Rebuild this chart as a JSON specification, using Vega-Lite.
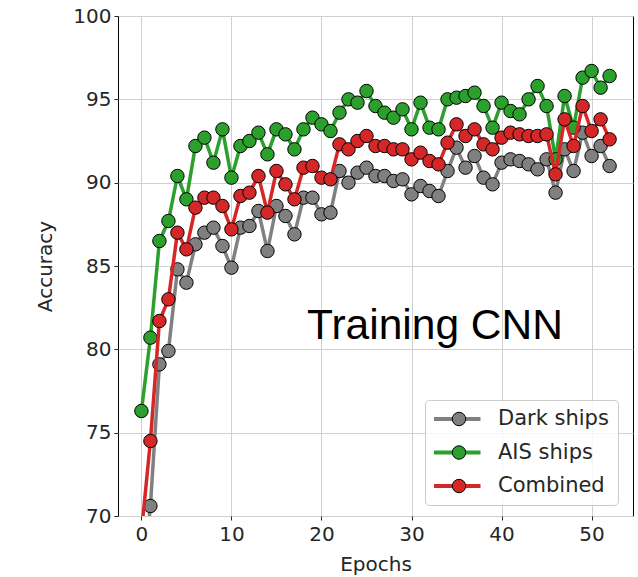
{
  "$schema": "https://vega.github.io/schema/vega-lite/v6.json",
  "width": 515,
  "height": 500,
  "autosize": {"type": "none"},
  "padding": {"left": 118, "top": 16, "right": 5, "bottom": 61},
  "background": "white",
  "config": {
    "view": {"stroke": "#000000", "strokeWidth": 1},
    "axis": {
      "labelFont": "DejaVu Sans", "labelFontSize": 20, "labelColor": "#262626",
      "titleFont": "DejaVu Sans", "titleFontSize": 20, "titleFontWeight": "normal", "titleColor": "#262626",
      "tickColor": "#262626", "tickSize": 4, "tickWidth": 1, "domain": false,
      "gridColor": "#d0d0d0", "gridWidth": 1
    }
  },
  "datasets": {
    "acc": [
      {"epoch":0,"series":"Dark ships","accuracy":65},{"epoch":1,"series":"Dark ships","accuracy":70.6},{"epoch":2,"series":"Dark ships","accuracy":79.1},{"epoch":3,"series":"Dark ships","accuracy":79.9},{"epoch":4,"series":"Dark ships","accuracy":84.8},{"epoch":5,"series":"Dark ships","accuracy":84.0},{"epoch":6,"series":"Dark ships","accuracy":86.3},{"epoch":7,"series":"Dark ships","accuracy":87.0},{"epoch":8,"series":"Dark ships","accuracy":87.3},{"epoch":9,"series":"Dark ships","accuracy":86.2},{"epoch":10,"series":"Dark ships","accuracy":84.9},{"epoch":11,"series":"Dark ships","accuracy":87.3},{"epoch":12,"series":"Dark ships","accuracy":87.4},{"epoch":13,"series":"Dark ships","accuracy":88.3},{"epoch":14,"series":"Dark ships","accuracy":85.9},{"epoch":15,"series":"Dark ships","accuracy":88.6},{"epoch":16,"series":"Dark ships","accuracy":88.0},{"epoch":17,"series":"Dark ships","accuracy":86.9},{"epoch":18,"series":"Dark ships","accuracy":89.1},{"epoch":19,"series":"Dark ships","accuracy":89.1},{"epoch":20,"series":"Dark ships","accuracy":88.1},{"epoch":21,"series":"Dark ships","accuracy":88.2},{"epoch":22,"series":"Dark ships","accuracy":90.7},{"epoch":23,"series":"Dark ships","accuracy":90.0},{"epoch":24,"series":"Dark ships","accuracy":90.6},{"epoch":25,"series":"Dark ships","accuracy":90.9},{"epoch":26,"series":"Dark ships","accuracy":90.4},{"epoch":27,"series":"Dark ships","accuracy":90.4},{"epoch":28,"series":"Dark ships","accuracy":90.1},{"epoch":29,"series":"Dark ships","accuracy":90.2},{"epoch":30,"series":"Dark ships","accuracy":89.3},{"epoch":31,"series":"Dark ships","accuracy":89.8},{"epoch":32,"series":"Dark ships","accuracy":89.5},{"epoch":33,"series":"Dark ships","accuracy":89.2},{"epoch":34,"series":"Dark ships","accuracy":90.7},{"epoch":35,"series":"Dark ships","accuracy":92.1},{"epoch":36,"series":"Dark ships","accuracy":90.9},{"epoch":37,"series":"Dark ships","accuracy":91.6},{"epoch":38,"series":"Dark ships","accuracy":90.3},{"epoch":39,"series":"Dark ships","accuracy":89.9},{"epoch":40,"series":"Dark ships","accuracy":91.2},{"epoch":41,"series":"Dark ships","accuracy":91.4},{"epoch":42,"series":"Dark ships","accuracy":91.3},{"epoch":43,"series":"Dark ships","accuracy":91.1},{"epoch":44,"series":"Dark ships","accuracy":90.8},{"epoch":45,"series":"Dark ships","accuracy":91.4},{"epoch":46,"series":"Dark ships","accuracy":89.4},{"epoch":47,"series":"Dark ships","accuracy":92.0},{"epoch":48,"series":"Dark ships","accuracy":90.7},{"epoch":49,"series":"Dark ships","accuracy":93.0},{"epoch":50,"series":"Dark ships","accuracy":91.6},{"epoch":51,"series":"Dark ships","accuracy":92.2},{"epoch":52,"series":"Dark ships","accuracy":91.0},
      {"epoch":0,"series":"AIS ships","accuracy":76.3},{"epoch":1,"series":"AIS ships","accuracy":80.7},{"epoch":2,"series":"AIS ships","accuracy":86.5},{"epoch":3,"series":"AIS ships","accuracy":87.7},{"epoch":4,"series":"AIS ships","accuracy":90.4},{"epoch":5,"series":"AIS ships","accuracy":89.0},{"epoch":6,"series":"AIS ships","accuracy":92.2},{"epoch":7,"series":"AIS ships","accuracy":92.7},{"epoch":8,"series":"AIS ships","accuracy":91.2},{"epoch":9,"series":"AIS ships","accuracy":93.2},{"epoch":10,"series":"AIS ships","accuracy":90.3},{"epoch":11,"series":"AIS ships","accuracy":92.2},{"epoch":12,"series":"AIS ships","accuracy":92.5},{"epoch":13,"series":"AIS ships","accuracy":93.0},{"epoch":14,"series":"AIS ships","accuracy":91.7},{"epoch":15,"series":"AIS ships","accuracy":93.2},{"epoch":16,"series":"AIS ships","accuracy":92.9},{"epoch":17,"series":"AIS ships","accuracy":92.0},{"epoch":18,"series":"AIS ships","accuracy":93.2},{"epoch":19,"series":"AIS ships","accuracy":93.9},{"epoch":20,"series":"AIS ships","accuracy":93.5},{"epoch":21,"series":"AIS ships","accuracy":93.1},{"epoch":22,"series":"AIS ships","accuracy":94.2},{"epoch":23,"series":"AIS ships","accuracy":95.0},{"epoch":24,"series":"AIS ships","accuracy":94.8},{"epoch":25,"series":"AIS ships","accuracy":95.5},{"epoch":26,"series":"AIS ships","accuracy":94.6},{"epoch":27,"series":"AIS ships","accuracy":94.2},{"epoch":28,"series":"AIS ships","accuracy":93.9},{"epoch":29,"series":"AIS ships","accuracy":94.4},{"epoch":30,"series":"AIS ships","accuracy":93.2},{"epoch":31,"series":"AIS ships","accuracy":94.8},{"epoch":32,"series":"AIS ships","accuracy":93.3},{"epoch":33,"series":"AIS ships","accuracy":93.2},{"epoch":34,"series":"AIS ships","accuracy":95.0},{"epoch":35,"series":"AIS ships","accuracy":95.1},{"epoch":36,"series":"AIS ships","accuracy":95.2},{"epoch":37,"series":"AIS ships","accuracy":95.4},{"epoch":38,"series":"AIS ships","accuracy":94.6},{"epoch":39,"series":"AIS ships","accuracy":93.3},{"epoch":40,"series":"AIS ships","accuracy":94.8},{"epoch":41,"series":"AIS ships","accuracy":94.3},{"epoch":42,"series":"AIS ships","accuracy":94.1},{"epoch":43,"series":"AIS ships","accuracy":95.0},{"epoch":44,"series":"AIS ships","accuracy":95.8},{"epoch":45,"series":"AIS ships","accuracy":94.6},{"epoch":46,"series":"AIS ships","accuracy":91.4},{"epoch":47,"series":"AIS ships","accuracy":95.2},{"epoch":48,"series":"AIS ships","accuracy":93.3},{"epoch":49,"series":"AIS ships","accuracy":96.3},{"epoch":50,"series":"AIS ships","accuracy":96.7},{"epoch":51,"series":"AIS ships","accuracy":95.7},{"epoch":52,"series":"AIS ships","accuracy":96.4},
      {"epoch":0,"series":"Combined","accuracy":69.0},{"epoch":1,"series":"Combined","accuracy":74.5},{"epoch":2,"series":"Combined","accuracy":81.7},{"epoch":3,"series":"Combined","accuracy":83.0},{"epoch":4,"series":"Combined","accuracy":87.0},{"epoch":5,"series":"Combined","accuracy":86.0},{"epoch":6,"series":"Combined","accuracy":88.5},{"epoch":7,"series":"Combined","accuracy":89.1},{"epoch":8,"series":"Combined","accuracy":89.1},{"epoch":9,"series":"Combined","accuracy":88.6},{"epoch":10,"series":"Combined","accuracy":87.2},{"epoch":11,"series":"Combined","accuracy":89.2},{"epoch":12,"series":"Combined","accuracy":89.4},{"epoch":13,"series":"Combined","accuracy":90.4},{"epoch":14,"series":"Combined","accuracy":88.2},{"epoch":15,"series":"Combined","accuracy":90.7},{"epoch":16,"series":"Combined","accuracy":89.9},{"epoch":17,"series":"Combined","accuracy":89.0},{"epoch":18,"series":"Combined","accuracy":90.9},{"epoch":19,"series":"Combined","accuracy":91.0},{"epoch":20,"series":"Combined","accuracy":90.3},{"epoch":21,"series":"Combined","accuracy":90.2},{"epoch":22,"series":"Combined","accuracy":92.3},{"epoch":23,"series":"Combined","accuracy":92.0},{"epoch":24,"series":"Combined","accuracy":92.5},{"epoch":25,"series":"Combined","accuracy":92.8},{"epoch":26,"series":"Combined","accuracy":92.2},{"epoch":27,"series":"Combined","accuracy":92.2},{"epoch":28,"series":"Combined","accuracy":92.0},{"epoch":29,"series":"Combined","accuracy":92.0},{"epoch":30,"series":"Combined","accuracy":91.4},{"epoch":31,"series":"Combined","accuracy":91.8},{"epoch":32,"series":"Combined","accuracy":91.3},{"epoch":33,"series":"Combined","accuracy":91.1},{"epoch":34,"series":"Combined","accuracy":92.4},{"epoch":35,"series":"Combined","accuracy":93.5},{"epoch":36,"series":"Combined","accuracy":92.8},{"epoch":37,"series":"Combined","accuracy":93.2},{"epoch":38,"series":"Combined","accuracy":92.3},{"epoch":39,"series":"Combined","accuracy":92.0},{"epoch":40,"series":"Combined","accuracy":92.7},{"epoch":41,"series":"Combined","accuracy":93.0},{"epoch":42,"series":"Combined","accuracy":92.9},{"epoch":43,"series":"Combined","accuracy":92.8},{"epoch":44,"series":"Combined","accuracy":92.8},{"epoch":45,"series":"Combined","accuracy":92.9},{"epoch":46,"series":"Combined","accuracy":90.5},{"epoch":47,"series":"Combined","accuracy":93.8},{"epoch":48,"series":"Combined","accuracy":92.2},{"epoch":49,"series":"Combined","accuracy":94.6},{"epoch":50,"series":"Combined","accuracy":93.1},{"epoch":51,"series":"Combined","accuracy":93.8},{"epoch":52,"series":"Combined","accuracy":92.6}
    ],
    "note": [{"label": "Training CNN", "epoch": 18.4, "accuracy": 80.62}]
  },
  "data": {"name": "acc"},
  "encoding": {
    "x": {"field": "epoch", "type": "quantitative", "scale": {"domain": [-2.6, 54.6], "nice": false, "zero": false},
      "axis": {"values": [0, 10, 20, 30, 40, 50], "title": "Epochs", "labelPadding": 4, "titleBaseline": "alphabetic", "titleY": 54}},
    "y": {"field": "accuracy", "type": "quantitative", "scale": {"domain": [70, 100], "nice": false, "zero": false},
      "axis": {"values": [70, 75, 80, 85, 90, 95, 100], "title": "Accuracy", "labelPadding": 3, "titleX": -73, "titleY": 250, "titleAngle": -90, "titleBaseline": "middle", "titleAlign": "center"}}
  },
  "layer": [
    {"transform": [{"filter": "datum.series === 'Dark ships'"}],
     "mark": {"type": "line", "strokeWidth": 3.5, "clip": true},
     "encoding": {"stroke": {"field": "series", "type": "nominal",
       "scale": {"domain": ["Dark ships", "AIS ships", "Combined"], "range": ["#808080", "#2ca02c", "#d62728"]},
       "legend": {"orient": "none", "legendX": 307, "legendY": 384, "title": null, "symbolType": "M-3,0H3", "symbolSize": 256, "symbolStrokeWidth": 4, "symbolOffset": 12,
         "labelFont": "DejaVu Sans", "labelFontSize": 21, "labelColor": "#262626", "labelOffset": 31, "padding": 9, "rowPadding": 12.5, "clipHeight": 20,
         "fillColor": "rgba(255,255,255,0.8)", "strokeColor": "#cccccc", "cornerRadius": 4, "zindex": 0}}}},
    {"transform": [{"filter": "datum.series === 'Dark ships'"}],
     "mark": {"type": "point", "filled": true, "shape": "circle", "size": 180, "stroke": "black", "strokeWidth": 1, "opacity": 1, "clip": true},
     "encoding": {"fill": {"field": "series", "type": "nominal",
       "scale": {"domain": ["AIS ships", "Combined", "Dark ships"], "range": ["#2ca02c", "#d62728", "#808080"]},
       "legend": {"orient": "none", "legendX": 307, "legendY": 384, "title": null, "values": ["Dark ships", "AIS ships", "Combined"], "symbolType": "circle", "symbolSize": 180, "symbolStrokeColor": "black", "symbolStrokeWidth": 1, "symbolOpacity": 1, "symbolOffset": 14.5,
         "labelExpr": "''", "labelFont": "DejaVu Sans", "labelFontSize": 21, "labelOpacity": 0, "labelOffset": 31, "padding": 9, "rowPadding": 12.5, "clipHeight": 20, "zindex": 1}}}},
    {"transform": [{"filter": "datum.series === 'AIS ships'"}],
     "mark": {"type": "line", "strokeWidth": 3.5, "clip": true},
     "encoding": {"stroke": {"field": "series", "type": "nominal"}}},
    {"transform": [{"filter": "datum.series === 'AIS ships'"}],
     "mark": {"type": "point", "filled": true, "shape": "circle", "size": 180, "stroke": "black", "strokeWidth": 1, "opacity": 1, "clip": true},
     "encoding": {"fill": {"field": "series", "type": "nominal"}}},
    {"transform": [{"filter": "datum.series === 'Combined'"}],
     "mark": {"type": "line", "strokeWidth": 3.5, "clip": true},
     "encoding": {"stroke": {"field": "series", "type": "nominal"}}},
    {"transform": [{"filter": "datum.series === 'Combined'"}],
     "mark": {"type": "point", "filled": true, "shape": "circle", "size": 180, "stroke": "black", "strokeWidth": 1, "opacity": 1, "clip": true},
     "encoding": {"fill": {"field": "series", "type": "nominal"}}},
    {"data": {"name": "note"},
     "mark": {"type": "text", "align": "left", "baseline": "alphabetic", "font": "Liberation Sans", "fontSize": 42.5, "color": "black"},
     "encoding": {"text": {"field": "label", "type": "nominal"}}}
  ]
}
